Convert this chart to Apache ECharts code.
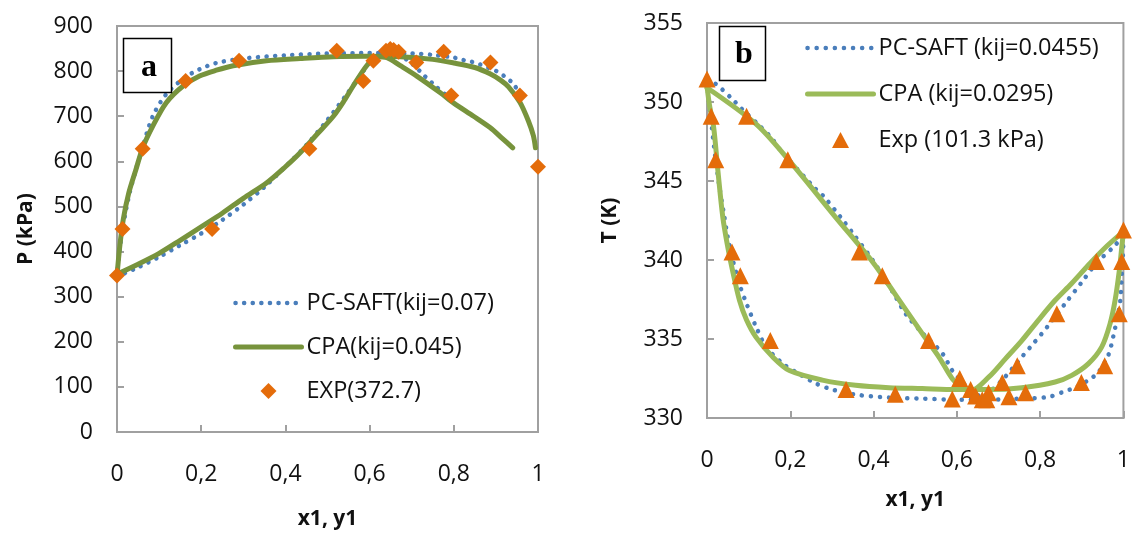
<!DOCTYPE html>
<html>
<head>
<meta charset="utf-8">
<script src="https://cdn.jsdelivr.net/npm/echarts@6/dist/echarts.min.js"></script>
<style>
  html, body { margin: 0; padding: 0; background: #fff; }
  #chart { width: 1133px; height: 535px; }
</style>
</head>
<body>
<div id="chart"></div>
<script>
// ---- Panel a: P-x-y at 372.7 K ----
const pcsaftBubbleA = [[0,345],[0.01,430],[0.03,530],[0.061,632],[0.085,700],[0.117,749],[0.16,785],[0.196,804],[0.236,818],[0.3,828],[0.4,835],[0.5,839],[0.6,840],[0.7,839],[0.75,836],[0.8,830],[0.82,825],[0.841,821],[0.862,815],[0.901,800],[0.921,788],[0.942,771],[0.968,732]];
const pcsaftDewA = [[0,345],[0.05,365],[0.1,388],[0.15,414],[0.2,440],[0.25,470],[0.3,504],[0.35,543],[0.4,588],[0.45,636],[0.5,692],[0.55,754],[0.585,800],[0.61,830],[0.635,842],[0.655,840],[0.68,830],[0.7,817],[0.73,790],[0.76,764],[0.78,748]];
const cpaBubbleA = [[0,347],[0.007,415],[0.015,472],[0.028,530],[0.045,582],[0.061,630],[0.085,678],[0.117,730],[0.157,767],[0.196,789],[0.236,802],[0.276,812],[0.355,823],[0.435,828],[0.514,832],[0.593,833],[0.673,832],[0.75,826],[0.8,818],[0.85,808],[0.886,794],[0.911,780],[0.93,765],[0.957,731],[0.977,690],[0.989,657],[0.994,630]];
const cpaDewA = [[0,350],[0.05,372],[0.1,396],[0.15,425],[0.2,455],[0.25,485],[0.3,518],[0.355,552],[0.4,588],[0.435,619],[0.475,660],[0.514,700],[0.54,735],[0.561,767],[0.593,812],[0.617,832],[0.641,830],[0.673,812],[0.712,789],[0.768,752],[0.8,729],[0.847,700],[0.886,675],[0.915,651],[0.94,630]];
const expA = [[0,347],[0.013,450],[0.061,628],[0.163,778],[0.226,450],[0.29,823],[0.457,628],[0.522,845],[0.585,778],[0.609,823],[0.639,845],[0.649,849],[0.657,847],[0.669,843],[0.711,819],[0.776,843],[0.794,746],[0.887,819],[0.957,746],[1.0,588]];

// ---- Panel b: T-x-y at 101.3 kPa ----
const pcsaftBubbleB = [[0,351.2],[0.01,348.8],[0.02,346.5],[0.03,344.6],[0.04,343.0],[0.05,341.4],[0.06,340.2],[0.07,339.2],[0.08,338.3],[0.094,337.3],[0.118,335.76],[0.142,334.5],[0.182,333.44],[0.214,332.9],[0.262,332.18],[0.301,331.8],[0.357,331.48],[0.437,331.29],[0.517,331.23],[0.597,331.16],[0.677,331.16],[0.756,331.23],[0.82,331.33],[0.86,331.7],[0.884,331.92],[0.916,332.4],[0.94,332.9],[0.964,334.0],[0.976,335.2],[0.984,336.2],[0.992,337.3],[0.996,339.0],[0.999,340.5],[1,341.6]];
const pcsaftDewB = [[0,351.3],[0.018,351.2],[0.062,350.15],[0.082,349.6],[0.122,348.6],[0.154,347.75],[0.178,346.9],[0.257,344.6],[0.281,344.0],[0.321,342.7],[0.35,341.7],[0.4,339.9],[0.45,337.8],[0.477,336.6],[0.52,335.3],[0.565,334.1],[0.589,333.0],[0.613,332.28],[0.637,331.75],[0.661,331.33],[0.685,331.8],[0.709,332.4],[0.733,333.13],[0.756,333.86],[0.78,334.6],[0.804,335.34],[0.82,335.87],[0.86,337.24],[0.9,338.6],[0.935,339.8],[0.979,340.9],[1,341.6]];
const cpaBubbleB = [[0,351],[0.006,349.8],[0.016,348.4],[0.026,345.7],[0.038,342.7],[0.05,340.8],[0.06,339.5],[0.078,337.45],[0.095,336.2],[0.118,335.1],[0.158,333.86],[0.198,333.0],[0.277,332.4],[0.357,332.07],[0.437,331.92],[0.517,331.86],[0.597,331.8],[0.677,331.8],[0.756,331.92],[0.836,332.28],[0.876,332.7],[0.916,333.44],[0.948,334.5],[0.968,335.97],[0.98,337.45],[0.99,339.3],[0.996,340.8],[1,341.8]];
const cpaDewB = [[0,350.9],[0.118,348.6],[0.194,346.4],[0.309,342.7],[0.4,339.8],[0.45,337.9],[0.517,335.34],[0.557,333.86],[0.589,332.49],[0.613,331.92],[0.633,331.72],[0.677,332.6],[0.717,333.76],[0.756,334.9],[0.796,336.2],[0.836,337.45],[0.875,338.5],[0.92,339.8],[0.961,340.9],[1,341.8]];
const expB = [[0,351.45],[0.01,349.1],[0.021,346.35],[0.06,340.5],[0.08,339.0],[0.095,349.1],[0.152,334.9],[0.194,346.35],[0.334,331.8],[0.366,340.5],[0.421,339.0],[0.452,331.5],[0.532,334.9],[0.589,331.2],[0.607,332.5],[0.633,331.8],[0.645,331.4],[0.661,331.15],[0.672,331.15],[0.676,331.6],[0.709,332.25],[0.725,331.35],[0.745,333.3],[0.765,331.6],[0.84,336.6],[0.899,332.25],[0.935,339.9],[0.955,333.3],[0.99,336.6],[0.996,339.9],[1.0,341.9]];

// Tick labels (decimal comma)
const xTickLabels = ['0', '0,2', '0,4', '0,6', '0,8', '1'];
const seriesNamesA = ['PC-SAFT(kij=0.07)', 'CPA(kij=0.045)', 'EXP(372.7)'];
const seriesNamesB = ['PC-SAFT (kij=0.0455)', 'CPA (kij=0.0295)', 'Exp (101.3 kPa)'];

const FONT = '"Open Sans", "Liberation Sans", sans-serif';
const AXIS = '#a0a0a0';
const TEXT = '#111';
const BLUE = '#4a7ebb';
const ORANGE = '#e46c0a';
const GREEN_A = '#77933c';
const GREEN_B = '#9bbb59';

// Legend marker icons: the leading moves span the full icon box so the
// marker keeps its own size, centred in the 66x16 legend slot.
const DIAMOND_ICON = 'path://M0,0M66,16M33,0L41,8L33,16L25,8Z';
const TRIANGLE_ICON = 'path://M0,0M66,16M33,0L41.5,16L24.5,16Z';

function xAxis(gridIndex, nameGap) {
  return {
    type: 'value', gridIndex, min: 0, max: 1, interval: 0.2,
    name: 'x1, y1', nameLocation: 'middle', nameGap,
    nameTextStyle: { fontFamily: FONT, fontSize: 21, fontWeight: 'bold', color: TEXT },
    axisLine: { lineStyle: { color: AXIS, width: 2 } },
    axisTick: { inside: true, length: 7, lineStyle: { color: AXIS, width: 2 } },
    axisLabel: { margin: 31, fontFamily: FONT, fontSize: 23, color: TEXT,
      formatter: v => xTickLabels[Math.round(v / 0.2)] },
    splitLine: { show: false }
  };
}
function yAxis(gridIndex, min, max, interval, name, nameGap) {
  return {
    type: 'value', gridIndex, min, max, interval,
    name, nameLocation: 'middle', nameGap,
    nameTextStyle: { fontFamily: FONT, fontSize: 21, fontWeight: 'bold', color: TEXT },
    axisLine: { lineStyle: { color: AXIS, width: 2 } },
    axisTick: { inside: true, length: 7, lineStyle: { color: AXIS, width: 2 } },
    axisLabel: { margin: 24, fontFamily: FONT, fontSize: 23, color: TEXT },
    splitLine: { show: false }
  };
}
function dotted(name, data, idx, gap) {
  return { type: 'line', name, data, xAxisIndex: idx, yAxisIndex: idx, symbol: 'none',
    smooth: 0.3, clip: false, z: 2,
    lineStyle: { color: BLUE, width: 4.5, type: [0.1, gap], cap: 'round' } };
}
function solid(name, data, idx, color) {
  return { type: 'line', name, data, xAxisIndex: idx, yAxisIndex: idx, symbol: 'none',
    smooth: 0.3, clip: false, z: 3,
    lineStyle: { color, width: 5, cap: 'round', join: 'round' } };
}
function markers(name, data, idx, symbol, size) {
  return { type: 'scatter', name, data, xAxisIndex: idx, yAxisIndex: idx, symbol,
    symbolSize: size, clip: false, z: 4, itemStyle: { color: ORANGE, opacity: 1 } };
}
function legend(left, top, names, gap, markerIcon) {
  return {
    orient: 'vertical', left, top, itemWidth: 66, itemHeight: 16, itemGap: gap,
    selectedMode: false,
    textStyle: { fontFamily: FONT, fontSize: 23.5, color: TEXT },
    lineStyle: { width: 'inherit', type: 'inherit', cap: 'inherit' },
    data: [
      { name: names[0], itemStyle: { opacity: 0 } },
      { name: names[1], itemStyle: { opacity: 0 } },
      { name: names[2], icon: markerIcon }
    ]
  };
}

const chart = echarts.init(document.getElementById('chart'), null, { renderer: 'canvas' });
chart.setOption({
  backgroundColor: '#fff',
  animation: false,
  grid: [
    { left: 117, top: 26, width: 421, height: 406, show: true, borderColor: AXIS, borderWidth: 2, backgroundColor: 'transparent' },
    { left: 707, top: 23, width: 418, height: 395, show: true, borderColor: AXIS, borderWidth: 2, backgroundColor: 'transparent' }
  ],
  xAxis: [xAxis(0, 77), xAxis(1, 72)],
  yAxis: [yAxis(0, 0, 900, 100, 'P (kPa)', 80), yAxis(1, 330, 355, 5, 'T (K)', 86)],
  legend: [
    legend(228, 286, seriesNamesA, 20, DIAMOND_ICON),
    legend(800, 31, seriesNamesB, 22, TRIANGLE_ICON)
  ],
  series: [
    dotted(seriesNamesA[0], pcsaftBubbleA, 0, 8.5),
    dotted(seriesNamesA[0], pcsaftDewA, 0, 8.5),
    solid(seriesNamesA[1], cpaBubbleA, 0, GREEN_A),
    solid(seriesNamesA[1], cpaDewA, 0, GREEN_A),
    markers(seriesNamesA[2], expA, 0, 'diamond', 16),
    dotted(seriesNamesB[0], pcsaftBubbleB, 1, 9),
    dotted(seriesNamesB[0], pcsaftDewB, 1, 9),
    solid(seriesNamesB[1], cpaBubbleB, 1, GREEN_B),
    solid(seriesNamesB[1], cpaDewB, 1, GREEN_B),
    markers(seriesNamesB[2], expB, 1, 'triangle', 17)
  ],
  graphic: [
    { type: 'rect', z: 10, shape: { x: 123.5, y: 38.5, width: 48, height: 54 },
      style: { fill: '#fff', stroke: '#000', lineWidth: 1.5 } },
    { type: 'text', z: 11, x: 149, y: 68,
      style: { text: 'a', font: 'bold 32px "Liberation Serif", serif', fill: '#000', align: 'center', verticalAlign: 'middle' } },
    { type: 'rect', z: 10, shape: { x: 719.5, y: 26.5, width: 46, height: 54 },
      style: { fill: '#fff', stroke: '#000', lineWidth: 1.5 } },
    { type: 'text', z: 11, x: 744, y: 55,
      style: { text: 'b', font: 'bold 32px "Liberation Serif", serif', fill: '#000', align: 'center', verticalAlign: 'middle' } }
  ]
});
</script>
</body>
</html>
